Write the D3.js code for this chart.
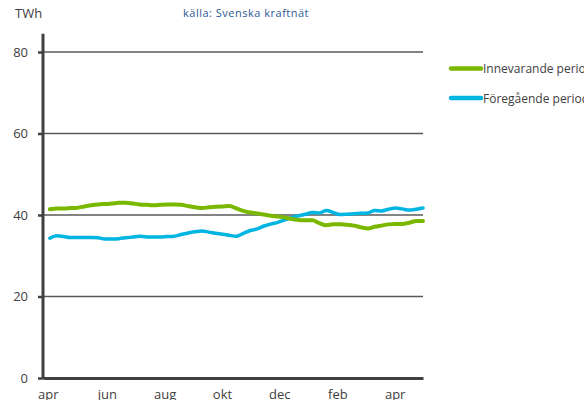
<!DOCTYPE html>
<html>
<head>
<meta charset="utf-8">
<script src="https://cdn.jsdelivr.net/npm/d3@7"></script>
<style>
  body { margin: 0; background: #fff; overflow: hidden; }
  svg { display: block; font-family: "Open Sans", sans-serif; }
</style>
</head>
<body>
<svg id="chart" width="584" height="400"></svg>
<script>

// Weekly values, TWh (rolling period)
const current = [
  41.4, 41.6, 41.6, 41.7, 41.8, 42.1, 42.4, 42.6, 42.7, 42.8,
  43.0, 43.0, 42.8, 42.6, 42.5, 42.4, 42.5, 42.6, 42.6, 42.5,
  42.2, 41.9, 41.7, 41.9, 42.0, 42.1, 42.2, 41.6, 41.0, 40.6,
  40.4, 40.1, 39.8, 39.6, 39.4, 39.0, 38.8, 38.7, 38.7, 38.0,
  37.5, 37.7, 37.7, 37.6, 37.4, 37.0, 36.7, 37.1, 37.4, 37.7,
  37.8, 37.8, 38.1, 38.5, 38.5
]
const previous = [
  34.3, 34.9, 34.7, 34.5, 34.5, 34.5, 34.5, 34.4, 34.1, 34.1,
  34.2, 34.4, 34.6, 34.8, 34.6, 34.6, 34.6, 34.7, 34.8, 35.2,
  35.6, 35.9, 36.1, 35.8, 35.5, 35.3, 35.0, 34.8, 35.5, 36.2,
  36.6, 37.3, 37.8, 38.2, 38.8, 39.4, 39.8, 40.2, 40.6, 40.5,
  41.1, 40.6, 40.1, 40.2, 40.3, 40.4, 40.5, 41.1, 41.0, 41.4,
  41.7, 41.5, 41.2, 41.4, 41.7
]
const series_names = ['Innevarande period', 'Föregående period']
const series_colors = ['#7ab800', '#00b5e2']
const month_labels = ['apr', 'jun', 'aug', 'okt', 'dec', 'feb', 'apr']
const month_pos = [-0.3, 8.25, 16.6, 24.9, 33.2, 41.6, 49.9]  // in weeks
const y_ticks = [0, 20, 40, 60, 80]

const svg = d3.select('#chart')

// Scales
let x = d3.scaleLinear().domain([-1, 54]).range([43, 423])
let y = d3.scaleLinear().domain([0, 80]).range([378, 52])

// Gridlines
svg.append('g')
  .selectAll('line')
  .data(y_ticks.filter(d => d > 0))
  .enter()
  .append('line')
    .attr('x1', x(-1))
    .attr('x2', x(54))
    .attr('y1', d => y(d))
    .attr('y2', d => y(d))
    .attr('stroke', '#5a5a5a')
    .attr('stroke-width', 1.5)

// Y axis
let y_axis = svg.append('g')
  .attr('transform', `translate(${x(-1)},0)`)
  .call(d3.axisLeft(y).tickValues(y_ticks).tickSize(5).tickPadding(10))
y_axis.select('.domain').remove()
y_axis.selectAll('.tick line')
  .attr('stroke', '#404040')
  .attr('stroke-width', 2.5)
y_axis.selectAll('.tick text')
  .attr('fill', '#404040')
  .style('font-size', '13px')
  .style('font-family', '"Open Sans", sans-serif')
svg.append('line')
  .attr('x1', x(-1)).attr('x2', x(-1))
  .attr('y1', y(84.5)).attr('y2', y(0) + 1)
  .attr('stroke', '#404040')
  .attr('stroke-width', 3)

// X axis
let x_axis = svg.append('g')
  .attr('transform', `translate(0,${y(0)})`)
  .call(d3.axisBottom(x).tickValues(month_pos).tickSize(0).tickPadding(12)
    .tickFormat((d, i) => month_labels[i]))
x_axis.select('.domain')
  .attr('stroke', '#404040')
  .attr('stroke-width', 3)
x_axis.selectAll('.tick text')
  .attr('fill', '#404040')
  .style('font-size', '13px')
  .style('font-family', '"Open Sans", sans-serif')

// Lines
let line = d3.line()
  .x((d, i) => x(i))
  .y(d => y(d))
  .curve(d3.curveMonotoneX)

svg.append('path')
  .datum(previous)
  .attr('d', line)
  .attr('fill', 'none')
  .attr('stroke', series_colors[1])
  .attr('stroke-width', 3.5)
  .attr('stroke-linecap', 'round')

svg.append('path')
  .datum(current)
  .attr('d', line)
  .attr('fill', 'none')
  .attr('stroke', series_colors[0])
  .attr('stroke-width', 4)
  .attr('stroke-linecap', 'round')

// Titles
svg.append('text')
  .attr('x', 15)
  .attr('y', 18)
  .attr('fill', '#404040')
  .style('font-size', '13px')
  .text('TWh')

svg.append('text')
  .attr('x', 183)
  .attr('y', 17)
  .attr('fill', '#2e5a96')
  .style('font-size', '11px')
  .style('letter-spacing', '0.5px')
  .text('källa: Svenska kraftnät')

// Legend
let legend = svg.append('g')
  .selectAll('g')
  .data(series_names)
  .enter()
  .append('g')
  .attr('transform', (d, i) => `translate(451,${68.5 + i * 29.5})`)

legend.append('line')
  .attr('x1', 0).attr('x2', 30)
  .attr('stroke', (d, i) => series_colors[i])
  .attr('stroke-width', 4.5)
  .attr('stroke-linecap', 'round')

legend.append('text')
  .attr('x', 32)
  .attr('y', 4.5)
  .attr('fill', '#404040')
  .style('font-size', '12px')
  .text(d => d)

</script>
</body>
</html>
